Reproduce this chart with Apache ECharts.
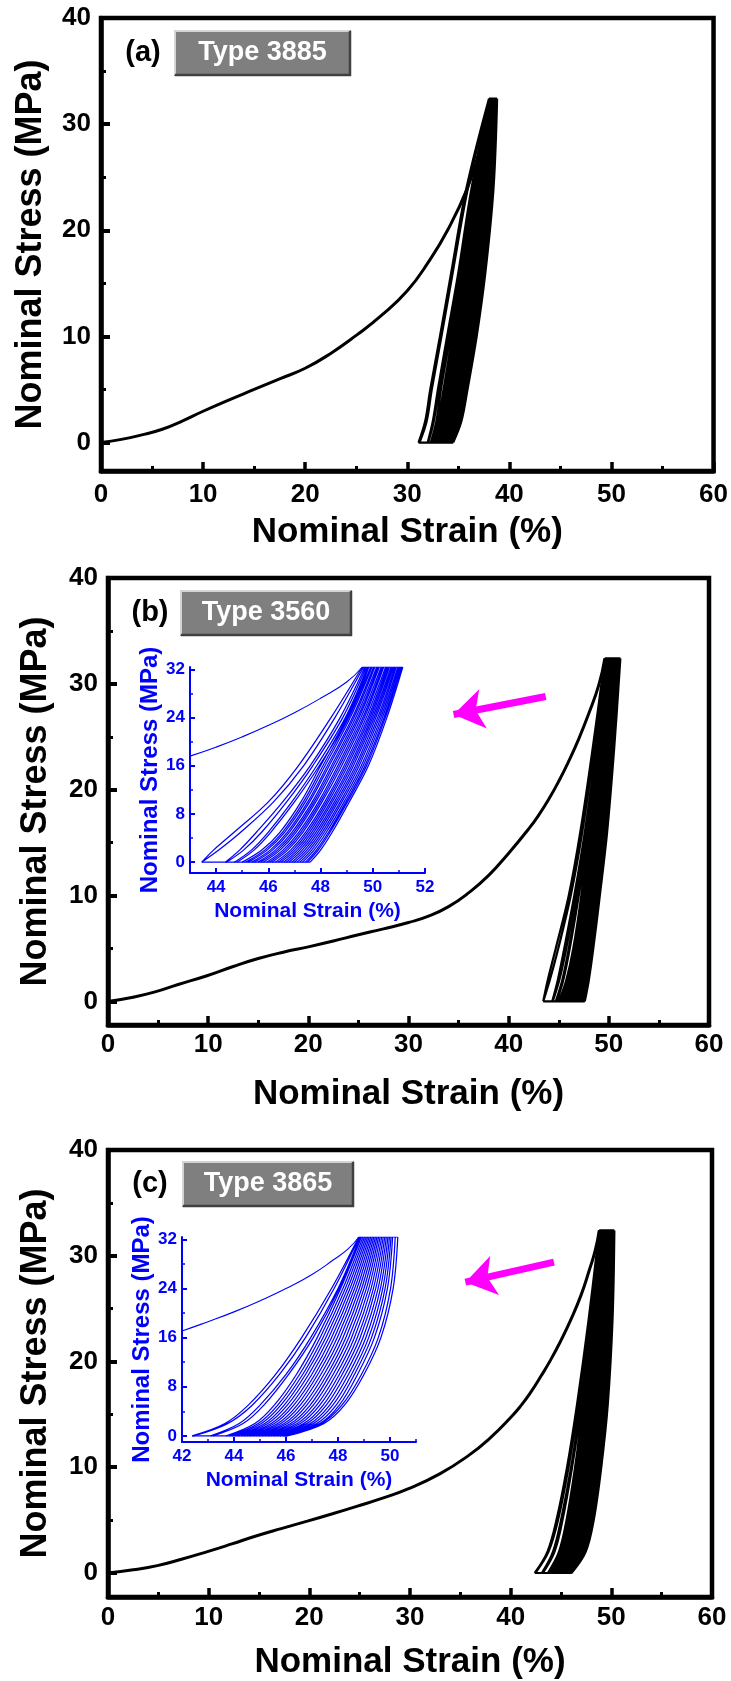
<!DOCTYPE html>
<html><head><meta charset="utf-8">
<script src="https://cdn.jsdelivr.net/npm/echarts@6/dist/echarts.min.js"></script>
<style>html,body{margin:0;padding:0;background:#fff}#c{width:731px;height:1681px}</style>
</head><body><div id="c"></div>
<script>
// ---------------- DATA ----------------
const stressLevels = [0, 2, 5, 10, 16, 24, 32.4];   // stress (MPa) at which each cycle branch is read
const peakStress = 32.4;

// (a) Type 3885 – monotonic loading [strain %, stress MPa]
const loadA = [[0,0],[2,0.3],[3.9,0.7],[6,1.25],[8,2.05],[10,2.95],[12.5,4.0],[15,5.0],[17.5,6.0],[20,7.0],[22.5,8.4],[25,10.1],[27.5,12.0],[30,14.3],[32,16.9],[34,20.1],[35.9,24.0],[37.0,27.3],[37.7,30.2],[38.1,32.4]];
// (a) cycle branches: strain (%) at each stress level
const cyclesA = [
 [31.10,31.75,32.25,33.20,34.30,35.80,38.00],
 [31.20,31.90,32.40,33.35,34.45,35.95,38.05],
 [32.00,32.50,33.00,33.90,35.00,36.30,38.10],
 [32.05,32.60,33.10,34.00,35.10,36.40,38.15],
 [32.30,32.85,33.30,34.20,35.20,36.50,38.20],
 [32.40,33.00,33.55,34.40,35.30,36.60,38.25],
 [32.55,33.16,33.71,34.57,35.46,36.73,38.29],
 [32.67,33.30,33.86,34.71,35.61,36.84,38.32],
 [32.82,33.46,34.02,34.88,35.77,36.97,38.36],
 [32.97,33.62,34.18,35.05,35.93,37.10,38.40],
 [33.09,33.76,34.33,35.19,36.08,37.21,38.43],
 [33.24,33.92,34.49,35.36,36.24,37.34,38.47],
 [33.39,34.08,34.65,35.53,36.40,37.47,38.51],
 [33.51,34.22,34.80,35.67,36.55,37.58,38.54],
 [33.66,34.38,34.96,35.84,36.71,37.71,38.58],
 [33.81,34.54,35.12,36.01,36.87,37.84,38.62],
 [33.93,34.68,35.27,36.15,37.02,37.95,38.65],
 [34.08,34.84,35.43,36.32,37.18,38.08,38.69],
 [34.23,35.00,35.59,36.49,37.34,38.21,38.73],
 [34.35,35.14,35.74,36.63,37.49,38.32,38.76],
 [34.50,35.30,35.90,36.80,37.65,38.45,38.80]
];

// (b) Type 3560
const loadB = [[0,0],[2.5,0.4],[4.7,0.9],[7,1.6],[9.8,2.4],[12.5,3.3],[15,4.05],[17.5,4.65],[20,5.15],[22.5,5.7],[25,6.3],[27.5,6.85],[30,7.45],[32,8.05],[34,8.95],[36,10.25],[38,11.9],[40,14.0],[42,16.3],[43,17.6],[44,19.1],[45,20.8],[46,22.7],[47,24.8],[48,27.2],[49,29.9],[49.6,32.4]];
const cyclesB = [
 [43.45,43.90,44.70,46.00,47.15,48.40,49.60],
 [43.45,44.10,44.95,46.20,47.35,48.55,49.65],
 [44.35,44.90,45.55,46.55,47.60,48.75,49.70],
 [44.40,45.05,45.75,46.70,47.70,48.85,49.75],
 [44.70,45.35,46.00,46.90,47.85,48.95,49.80],
 [44.80,45.45,46.10,47.00,47.95,49.05,49.85],
 [45.00,45.75,46.45,47.25,48.00,49.00,49.85],
 [45.13,45.86,46.55,47.34,48.09,49.08,49.92],
 [45.23,45.95,46.63,47.42,48.17,49.14,49.97],
 [45.36,46.07,46.73,47.51,48.26,49.22,50.03],
 [45.47,46.16,46.81,47.58,48.33,49.28,50.08],
 [45.60,46.27,46.91,47.68,48.42,49.35,50.15],
 [45.70,46.36,46.99,47.75,48.49,49.42,50.20],
 [45.81,46.45,47.07,47.82,48.57,49.48,50.25],
 [45.94,46.56,47.17,47.92,48.66,49.55,50.32],
 [46.04,46.65,47.25,47.99,48.73,49.62,50.37],
 [46.14,46.74,47.33,48.06,48.81,49.68,50.42],
 [46.27,46.85,47.43,48.16,48.90,49.75,50.49],
 [46.38,46.94,47.51,48.23,48.97,49.82,50.54],
 [46.48,47.03,47.59,48.30,49.04,49.88,50.59],
 [46.59,47.12,47.67,48.38,49.12,49.94,50.64],
 [46.69,47.21,47.75,48.45,49.19,50.00,50.70],
 [46.79,47.30,47.83,48.53,49.26,50.06,50.75],
 [46.90,47.39,47.91,48.60,49.34,50.12,50.80],
 [47.00,47.48,47.99,48.67,49.41,50.19,50.85],
 [47.11,47.57,48.07,48.75,49.48,50.25,50.90],
 [47.21,47.66,48.15,48.82,49.56,50.31,50.96],
 [47.31,47.75,48.23,48.90,49.63,50.37,51.01],
 [47.42,47.84,48.31,48.97,49.70,50.43,51.06],
 [47.50,47.91,48.37,49.03,49.76,50.48,51.10],
 [47.60,48.00,48.45,49.10,49.83,50.54,51.15]
];

// (c) Type 3865
const loadC = [[0,0],[2.5,0.3],[4.9,0.7],[7.3,1.3],[9.8,2.0],[12.3,2.75],[14.7,3.5],[17.2,4.2],[19.8,4.9],[22.3,5.6],[24.7,6.3],[27.2,7.05],[29.8,7.95],[33,9.4],[35.8,11.1],[38,12.8],[40,14.7],[41,15.8],[42,17.1],[43,18.6],[44,20.2],[45,22.0],[46,24.0],[47,26.3],[47.8,28.6],[48.4,30.5],[48.8,32.4]];
const cyclesC = [
 [42.39,43.65,44.55,45.60,46.60,47.75,48.80],
 [42.45,43.75,44.70,45.75,46.75,47.85,48.82],
 [43.10,44.20,45.00,46.00,46.95,48.00,48.85],
 [43.20,44.35,45.15,46.10,47.05,48.05,48.87],
 [43.70,44.80,45.55,46.40,47.20,48.10,48.90],
 [43.82,44.93,45.68,46.52,47.31,48.19,48.96],
 [43.93,45.05,45.80,46.64,47.42,48.28,49.02],
 [44.05,45.18,45.93,46.75,47.53,48.37,49.08],
 [44.16,45.30,46.05,46.87,47.64,48.46,49.14],
 [44.28,45.43,46.18,46.99,47.75,48.55,49.20],
 [44.39,45.55,46.30,47.11,47.86,48.64,49.26],
 [44.51,45.68,46.43,47.22,47.97,48.73,49.32],
 [44.62,45.80,46.55,47.34,48.08,48.82,49.38],
 [44.74,45.93,46.68,47.46,48.19,48.91,49.44],
 [44.85,46.05,46.80,47.58,48.30,49.00,49.50],
 [44.97,46.18,46.93,47.69,48.41,49.09,49.56],
 [45.08,46.30,47.05,47.81,48.52,49.18,49.62],
 [45.20,46.43,47.18,47.93,48.63,49.27,49.68],
 [45.31,46.55,47.30,48.05,48.74,49.36,49.74],
 [45.43,46.68,47.43,48.16,48.85,49.45,49.80],
 [45.54,46.80,47.55,48.28,48.96,49.54,49.86],
 [45.66,46.93,47.68,48.40,49.07,49.63,49.92],
 [45.77,47.05,47.80,48.52,49.18,49.72,49.98],
 [45.89,47.18,47.93,48.63,49.29,49.81,50.04],
 [46.00,47.30,48.05,48.75,49.40,49.90,50.10],
 [45.95,47.35,48.15,48.90,49.55,50.02,50.20],
 [46.05,47.45,48.25,49.00,49.65,50.12,50.30]
];

// arrows [tail, head] in data units of panels (b) and (c)
const arrowB = [[43.7, 28.8], [34.5, 27.1]];
const arrowC = [[44.3, 29.4], [35.5, 27.5]];

// tick values and labels
const mainYTicks = [0, 10, 20, 30, 40];
const mainYMinor = [5, 15, 25, 35];
const insetBXTicks = [44, 46, 48, 50, 52];
const insetBXMinor = [45, 47, 49, 51];
const insetCXTicks = [42, 44, 46, 48, 50];
const insetCXMinor = [43, 45, 47, 49, 51];
const insetYTicks = [0, 8, 16, 24, 32];
const insetYMinor = [4, 12, 20, 28];
const panelLetters = ['(a)', '(b)', '(c)'];
const typeNames = ['Type 3885', 'Type 3560', 'Type 3865'];
const xTitle = 'Nominal Strain (%)';
const yTitle = 'Nominal Stress (MPa)';

// ---------------- CHART ----------------
const SANS = "'Liberation Sans',Arial,'DejaVu Sans',sans-serif";
const BLUE = '#0000FF';

function branches(rows) {
  const out = [];
  rows.forEach(r => { r.forEach((x, j) => out.push([x, stressLevels[j]])); out.push(['-', '-']); });
  return out;
}
function dwell(rows) {
  const b = rows.map(r => r[0]), t = rows.map(r => r[r.length - 1]);
  return [[Math.min(...b), 0], [Math.max(...b), 0], ['-', '-'], [Math.min(...t), peakStress], [Math.max(...t), peakStress]];
}

const grids = [
  {left: 101, top: 18, width: 614, height: 453},
  {left: 108, top: 578, width: 601, height: 447},
  {left: 108, top: 1150, width: 604, height: 447},
  {left: 190, top: 667, width: 235, height: 206},
  {left: 182, top: 1237, width: 234, height: 205}
].map((g, i) => Object.assign(g, i < 3 ? {show: true, borderColor: '#000', borderWidth: 4.5, backgroundColor: 'transparent'} : {show: false}));

const mainYMin = [-2.68, -2.23, -2.27];
const mainXNameGap = [44, 52, 48];
const mainXLabelMargin = [11, 7, 8];

const xAxis = [], yAxis = [];
for (let i = 0; i < 3; i++) {
  xAxis.push({type: 'value', gridIndex: i, min: 0, max: 60, interval: 10, position: 'bottom',
    axisLine: {show: true, onZero: false, lineStyle: {color: '#000', width: 4.5}},
    axisTick: {show: true, inside: true, length: 9, lineStyle: {color: '#000', width: 3.5}},
    minorTick: {show: true, splitNumber: 2, length: 5, lineStyle: {color: '#000', width: 3}},
    axisLabel: {fontFamily: SANS, fontWeight: 'bold', fontSize: 26, color: '#000', margin: mainXLabelMargin[i]},
    splitLine: {show: false}, minorSplitLine: {show: false},
    name: xTitle, nameLocation: 'middle', nameGap: mainXNameGap[i],
    nameTextStyle: {fontFamily: SANS, fontWeight: 'bold', fontSize: 35, color: '#000'}});
  yAxis.push({type: 'value', gridIndex: i, min: mainYMin[i], max: 40, position: 'left',
    axisLine: {show: true, onZero: false, lineStyle: {color: '#000', width: 4.5}},
    axisTick: {show: true, inside: true, length: 9, lineStyle: {color: '#000', width: 4}, customValues: mainYTicks},
    axisLabel: {fontFamily: SANS, fontWeight: 'bold', fontSize: 26, color: '#000', margin: 10, customValues: mainYTicks},
    splitLine: {show: false},
    name: yTitle, nameLocation: 'middle', nameRotate: 90, nameGap: i === 0 ? 52 : 54,
    nameTextStyle: {fontFamily: SANS, fontWeight: 'bold', fontSize: 36, color: '#000'}});
}
// insets
const insetDefs = [
  {grid: 3, xmin: 43, xmax: 52, ymin: -1.8, xt: insetBXTicks, xm: insetBXMinor},
  {grid: 4, xmin: 42, xmax: 51, ymin: -1.0, xt: insetCXTicks, xm: insetCXMinor}
];
insetDefs.forEach(d => {
  xAxis.push({type: 'value', gridIndex: d.grid, min: d.xmin, max: d.xmax, position: 'bottom',
    axisLine: {show: true, onZero: false, lineStyle: {color: BLUE, width: 2}},
    axisTick: {show: true, inside: true, length: 5, lineStyle: {color: BLUE, width: 2}, customValues: d.xt},
    axisLabel: {fontFamily: SANS, fontWeight: 'bold', fontSize: 17, color: BLUE, margin: 6, customValues: d.xt},
    splitLine: {show: false},
    name: xTitle, nameLocation: 'middle', nameGap: 28,
    nameTextStyle: {fontFamily: SANS, fontWeight: 'bold', fontSize: 21, color: BLUE}});
  yAxis.push({type: 'value', gridIndex: d.grid, min: d.ymin, max: peakStress, position: 'left',
    axisLine: {show: true, onZero: false, lineStyle: {color: BLUE, width: 2}},
    axisTick: {show: true, inside: true, length: 5, lineStyle: {color: BLUE, width: 2}, customValues: insetYTicks},
    axisLabel: {fontFamily: SANS, fontWeight: 'bold', fontSize: 17, color: BLUE, margin: 5, customValues: insetYTicks},
    splitLine: {show: false},
    name: yTitle, nameLocation: 'middle', nameRotate: 90, nameGap: 28,
    nameTextStyle: {fontFamily: SANS, fontWeight: 'bold', fontSize: 24, color: BLUE}});
});
// minor-tick helper axes
for (let i = 0; i < 3; i++) {
  yAxis.push({type: 'value', gridIndex: i, min: mainYMin[i], max: 40, position: 'left', offset: 0,
    axisLine: {show: false, onZero: false}, axisLabel: {show: false}, splitLine: {show: false},
    axisTick: {show: true, inside: true, length: 5, lineStyle: {color: '#000', width: 3}, customValues: mainYMinor}});
}
insetDefs.forEach(d => {
  yAxis.push({type: 'value', gridIndex: d.grid, min: d.ymin, max: peakStress, position: 'left', offset: 0,
    axisLine: {show: false, onZero: false}, axisLabel: {show: false}, splitLine: {show: false},
    axisTick: {show: true, inside: true, length: 3, lineStyle: {color: BLUE, width: 1.5}, customValues: insetYMinor}});
  xAxis.push({type: 'value', gridIndex: d.grid, min: d.xmin, max: d.xmax, position: 'bottom', offset: 0,
    axisLine: {show: false, onZero: false}, axisLabel: {show: false}, splitLine: {show: false},
    axisTick: {show: true, inside: true, length: 3, lineStyle: {color: BLUE, width: 1.5}, customValues: d.xm}});
});

const loads = [loadA, loadB, loadC];
const cycles = [cyclesA, cyclesB, cyclesC];
const series = [];
function lineS(xi, yi, data, color, width, smooth) {
  return {type: 'line', xAxisIndex: xi, yAxisIndex: yi, data: data, showSymbol: false, symbol: 'none',
    smooth: smooth, connectNulls: false, clip: true, lineStyle: {color: color, width: width}, silent: true, z: 3};
}
for (let i = 0; i < 3; i++) {
  series.push(lineS(i, i, loads[i], '#000', 3, 0.5));
  series.push(lineS(i, i, branches(cycles[i]), '#000', 2.2, 0.35));
  series.push(lineS(i, i, dwell(cycles[i]), '#000', 2.2, false));
}
[[3, 1], [4, 2]].forEach(([ax, p]) => {
  series.push(lineS(ax, ax, loads[p], BLUE, 1.1, 0.5));
  series.push(lineS(ax, ax, branches(cycles[p]), BLUE, 1.25, 0.35));
  series.push(lineS(ax, ax, dwell(cycles[p]), BLUE, 1.1, false));
});
[[1, arrowB], [2, arrowC]].forEach(([ax, a]) => {
  series.push({type: 'lines', coordinateSystem: 'cartesian2d', xAxisIndex: ax, yAxisIndex: ax,
    symbol: ['none', 'arrow'], symbolSize: [20, 30], silent: true, z: 5,
    lineStyle: {color: '#FF00FF', width: 7, opacity: 1, curveness: 0},
    data: [{coords: a}]});
});

// panel tags
const boxes = [{x: 174, y: 30, w: 177, h: 46, lx: 143}, {x: 180, y: 590, w: 172, h: 46, lx: 150}, {x: 182, y: 1161, w: 172, h: 46, lx: 150}];
const graphic = [];
boxes.forEach((b, i) => {
  graphic.push({type: 'rect', shape: {x: b.x, y: b.y, width: b.w, height: b.h}, style: {fill: '#7f7f7f'}, z: 10});
  graphic.push({type: 'polyline', shape: {points: [[b.x + 1, b.y + b.h - 1], [b.x + 1, b.y + 1], [b.x + b.w - 1, b.y + 1]]}, style: {stroke: '#d4d4d4', lineWidth: 2, fill: null}, z: 11});
  graphic.push({type: 'polyline', shape: {points: [[b.x + 1, b.y + b.h - 1], [b.x + b.w - 1, b.y + b.h - 1], [b.x + b.w - 1, b.y + 1]]}, style: {stroke: '#404040', lineWidth: 2.5, fill: null}, z: 11});
  graphic.push({type: 'text', x: b.x + b.w / 2, y: b.y + b.h / 2, z: 12,
    style: {text: typeNames[i], fill: '#fff', font: "bold 27px " + SANS, align: 'center', verticalAlign: 'middle'}});
  graphic.push({type: 'text', x: b.lx, y: b.y + b.h / 2, z: 12,
    style: {text: panelLetters[i], fill: '#000', font: "bold 29px " + SANS, align: 'center', verticalAlign: 'middle'}});
});

const chart = echarts.init(document.getElementById('c'), null, {renderer: 'canvas'});
chart.setOption({animation: false, backgroundColor: '#fff', grid: grids, xAxis: xAxis, yAxis: yAxis, series: series, graphic: graphic});
</script></body></html>
